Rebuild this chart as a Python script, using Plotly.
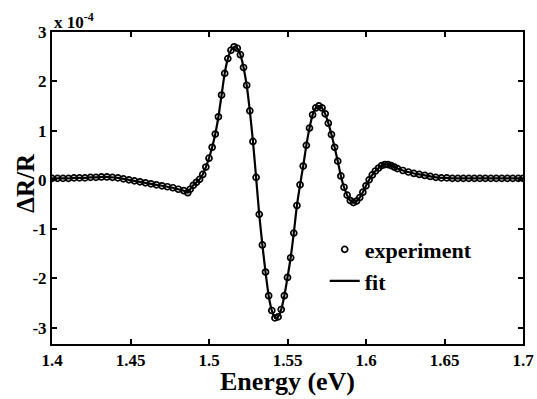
import plotly.graph_objects as go

# Energy (eV) of the experimental points
energy = [
    1.400, 1.4035, 1.407, 1.4105, 1.414, 1.4175, 1.421, 1.4245, 1.428, 1.4315,
    1.435, 1.4385, 1.442, 1.4455, 1.449, 1.4525, 1.456, 1.4595, 1.463, 1.4665,
    1.470, 1.4735, 1.477, 1.4805, 1.484, 1.4865,
    1.488, 1.490, 1.492, 1.494, 1.496, 1.498, 1.500, 1.502, 1.504, 1.506,
    1.508, 1.510, 1.512, 1.514, 1.516, 1.518, 1.520, 1.522, 1.524, 1.526,
    1.528, 1.530, 1.532, 1.534, 1.536, 1.538, 1.540, 1.542, 1.544, 1.546,
    1.548, 1.550, 1.552, 1.554, 1.556, 1.558, 1.560, 1.562, 1.564, 1.566,
    1.568, 1.570, 1.572, 1.574, 1.576, 1.578, 1.580, 1.582, 1.584, 1.586,
    1.588, 1.590, 1.592, 1.594, 1.596, 1.598, 1.600, 1.602, 1.604, 1.606,
    1.608, 1.610, 1.612, 1.614, 1.616, 1.618, 1.620,
    1.6235, 1.627, 1.6305, 1.634, 1.6375, 1.641, 1.6445, 1.648, 1.6515, 1.655,
    1.6585, 1.662, 1.6655, 1.669, 1.6725, 1.676, 1.6795, 1.683, 1.6865, 1.690,
    1.6935, 1.697, 1.700,
]

# dR/R in units of 1e-4 (experiment)
experiment = [
    0.03, 0.03, 0.03, 0.03, 0.04, 0.04, 0.04, 0.05, 0.05, 0.06,
    0.06, 0.05, 0.04, 0.02, 0.00, -0.02, -0.04, -0.06, -0.08, -0.10,
    -0.12, -0.14, -0.16, -0.19, -0.22, -0.26,
    -0.19, -0.11, -0.05, 0.01, 0.11, 0.26, 0.44, 0.66, 0.93, 1.28,
    1.72, 2.16, 2.46, 2.63, 2.70, 2.67, 2.54, 2.28, 1.92, 1.40,
    0.78, 0.05, -0.70, -1.32, -1.87, -2.35, -2.65, -2.80, -2.78, -2.63,
    -2.35, -1.98, -1.58, -1.08, -0.52, -0.10, 0.28, 0.70, 1.05, 1.32,
    1.46, 1.50, 1.46, 1.34, 1.15, 0.92, 0.66, 0.38, 0.08, -0.15,
    -0.31, -0.42, -0.46, -0.43, -0.36, -0.25, -0.12, 0.00, 0.10, 0.18,
    0.24, 0.29, 0.31, 0.31, 0.29, 0.26, 0.23,
    0.19, 0.16, 0.13, 0.11, 0.09, 0.07, 0.05, 0.04, 0.04, 0.03,
    0.03, 0.03, 0.03, 0.03, 0.03, 0.03, 0.03, 0.03, 0.03, 0.03,
    0.03, 0.03, 0.03,
]

# fit curve (same sampling, follows the data)
fit = list(experiment)

x_ticks = [1.4, 1.45, 1.5, 1.55, 1.6, 1.65, 1.7]
x_tick_labels = ["1.4", "1.45", "1.5", "1.55", "1.6", "1.65", "1.7"]
y_ticks = [-3, -2, -1, 0, 1, 2, 3]
y_tick_labels = ["-3", "-2", "-1", "0", "1", "2", "3"]

SERIF = "Liberation Serif"

fig = go.Figure()
fig.add_trace(go.Scatter(
    x=energy, y=experiment, mode="markers", name="experiment",
    marker=dict(symbol="circle-open", size=6, color="black",
                line=dict(width=1.7, color="black")),
))
fig.add_trace(go.Scatter(
    x=energy, y=fit, mode="lines", name="fit",
    line=dict(color="black", width=2.2, shape="spline", smoothing=0.6),
))

axis_common = dict(
    showgrid=False, zeroline=False, showline=True, linecolor="black",
    linewidth=2, mirror="ticks", ticks="inside", ticklen=5, tickwidth=1.5,
    tickcolor="black", automargin=False,
    tickfont=dict(family=SERIF, size=17, color="black"),
)

fig.update_layout(
    width=537, height=399,
    margin=dict(l=52, r=14, t=32, b=55),
    paper_bgcolor="white", plot_bgcolor="white",
    showlegend=True,
    legend=dict(
        x=0.579, y=0.37, xanchor="left", yanchor="top",
        bgcolor="rgba(0,0,0,0)", borderwidth=0,
        font=dict(family=SERIF, size=22, color="black", weight="bold"),
        tracegroupgap=0, itemwidth=30,
    ),
    xaxis=dict(
        range=[1.4, 1.7], tickvals=x_ticks,
        ticktext=["<b>%s</b>" % t for t in x_tick_labels],
        **axis_common,
    ),
    yaxis=dict(
        range=[-3.33, 3.0], tickvals=y_ticks,
        ticktext=["<b>%s</b>" % t for t in y_tick_labels],
        **axis_common,
    ),
    annotations=[
        dict(
            text="<b>x 10<sup>-4</sup></b>", xref="paper", yref="paper",
            x=0.0, y=1.0, xanchor="left", yanchor="bottom", showarrow=False,
            font=dict(family=SERIF, size=17, color="black"),
            yshift=-2,
        ),
        dict(
            text="<b>Energy (eV)</b>", xref="paper", yref="paper",
            x=0.501, y=-0.066, xanchor="center", yanchor="top",
            showarrow=False,
            font=dict(family=SERIF, size=26, color="black"),
        ),
        dict(
            text="<b>ΔR/R</b>", xref="paper", yref="paper",
            x=-0.058, y=0.516, xanchor="center", yanchor="middle",
            textangle=-90, showarrow=False,
            font=dict(family=SERIF, size=25, color="black"),
        ),
    ],
)

fig.write_html(
    "out.html",
    config={"displayModeBar": False},
    post_script="document.body.style.margin='0';document.body.style.overflow='hidden';",
)
